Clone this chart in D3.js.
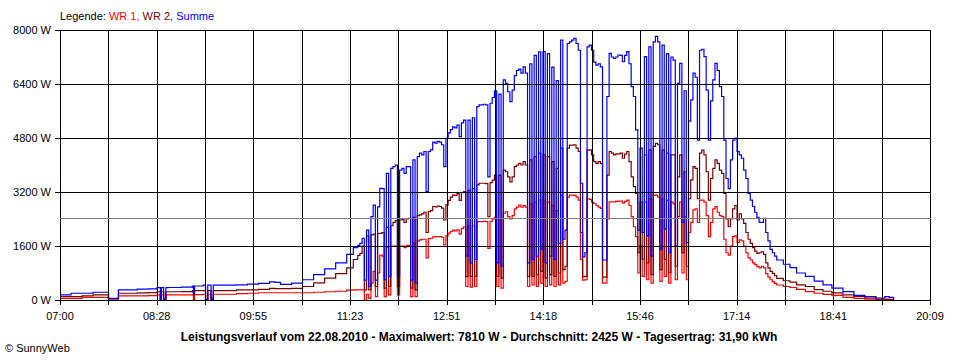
<!DOCTYPE html>
<html><head><meta charset="utf-8">
<script src="https://cdn.jsdelivr.net/npm/d3@7"></script>
<style>
html,body{margin:0;padding:0;background:#fff;}
svg{display:block;font-family:"Liberation Sans",Arial,sans-serif;}
</style></head><body>
<svg id="chart" width="960" height="360"></svg>
<script>
// ---- data ----
const times = [
"07:00","07:05","07:10","07:20","07:30","07:40","07:44","07:48","07:53","08:00",
"08:10","08:20","08:28","08:31","08:32","08:34","08:36","08:38","08:50","09:00",
"09:01","09:02","09:10","09:12","09:14","09:17","09:19","09:30","09:40","09:50",
"10:00","10:10","10:15","10:20","10:30","10:40","10:50","11:00","11:10","11:20",
"11:26",
"11:30","11:32","11:34","11:36","11:38","11:40","11:42","11:44","11:46","11:48",
"11:50","11:52","11:54","11:56","11:58","12:00","12:02","12:04","12:06","12:08",
"12:10","12:12","12:14","12:16","12:18","12:20","12:22","12:24","12:26","12:28",
"12:30","12:32","12:34","12:36","12:38","12:40","12:42","12:44","12:46","12:48",
"12:50","12:52","12:54","12:56","12:58","13:00","13:02","13:04","13:06","13:08",
"13:10","13:12","13:14","13:16","13:18","13:20","13:22","13:24","13:26","13:28",
"13:30","13:32","13:34","13:36","13:38","13:40","13:42","13:44","13:46","13:48",
"13:50","13:52","13:54","13:56","13:58","14:00","14:02","14:04","14:06","14:08",
"14:10","14:12","14:14","14:16","14:18","14:20","14:22","14:24","14:26","14:28",
"14:30","14:32","14:34","14:36","14:38","14:40","14:42","14:44","14:46","14:48",
"14:50","14:52","14:54","14:56","14:58","15:00","15:02","15:04","15:06","15:08",
"15:10","15:12","15:14","15:16","15:18","15:20","15:22","15:24","15:26","15:28",
"15:30","15:32","15:34","15:36","15:38","15:40","15:42","15:44","15:46","15:48",
"15:50","15:52","15:54","15:56","15:58","16:00","16:02","16:04","16:06","16:08",
"16:10","16:12","16:14","16:16","16:18","16:20","16:22","16:24","16:26","16:28",
"16:30","16:32","16:34","16:36","16:38","16:40","16:42","16:44","16:46","16:48",
"16:50","16:52","16:54","16:56","16:58","17:00","17:02","17:04","17:06","17:08",
"17:10","17:12","17:14","17:16","17:18","17:20","17:22","17:24","17:26","17:28",
"17:30","17:32","17:34","17:36","17:38","17:40","17:42","17:44","17:46","17:48",
"17:50","17:56","18:02","18:08","18:16","18:24","18:32","18:40","18:50","19:00",
"19:10","19:20","19:24","19:28","19:32","19:36"
];
// Summe (blue)
const summe = [
150,150,200,200,230,230,50,50,300,300,
320,330,365,20,365,20,365,370,380,415,
200,415,440,20,440,20,440,440,450,470,
490,540,520,465,500,600,750,920,1100,1350,
1550,
1620,1680,1830,590,2070,400,2470,2810,590,2760,
3310,3300,600,3750,700,3900,3950,4000,690,3850,
3900,3750,3950,3950,590,4150,500,4250,4350,4300,
4400,3210,4400,4450,4680,4650,4700,4680,4600,3950,
4790,4950,5050,5130,5100,5180,4840,5250,5330,1300,
5330,1100,5400,1200,5730,5780,5780,5800,5780,3650,
5830,6000,6200,1100,6100,1000,6520,6420,6170,5880,
6220,6650,6800,6840,6720,6910,6720,1100,7000,1200,
7250,1300,7350,1500,7360,1100,7300,1300,6900,1200,
6500,1680,7700,1800,2070,7600,7650,7700,7750,7600,
7400,3460,1280,1400,7500,7550,7400,7050,6960,7000,
6910,1185,1185,6030,7310,7200,7160,7200,7260,7250,
7060,7250,7360,7000,6320,6030,5040,2070,4500,2000,
7210,1900,7500,1300,7650,7810,7650,1500,7550,2100,
7300,1400,7200,7110,1600,6420,7010,2300,6200,1700,
5300,5930,6720,6600,4740,7400,7430,7210,6220,4740,
5900,6520,7010,6800,6320,6030,4740,3600,3300,4150,
4740,4800,4400,4300,4200,3850,3600,3160,2960,2770,
2600,2450,2300,2300,2420,2000,1750,1500,1400,1300,
1185,1060,960,800,700,560,450,350,250,140,
100,60,60,100,80,30
];
// WR 2 (dark red)
const wr2 = [
100,100,100,120,150,150,30,30,200,200,
210,220,245,10,245,10,245,245,250,275,
150,275,275,10,280,10,280,280,300,300,
315,345,340,340,345,400,510,650,780,950,
1200,
1320,1380,1600,300,1900,300,1930,1950,400,1970,
1975,2000,350,2150,400,2200,2300,2350,400,2370,
2380,2300,2400,2420,350,2450,300,2500,2520,2550,
2600,2000,2620,2650,2770,2760,2780,2770,2720,2370,
2820,2950,3050,3110,3100,3150,2950,3180,3210,690,
3250,700,3300,700,3410,3460,3460,3460,3450,2470,
3480,3550,3700,700,3700,650,3850,3800,3650,3500,
3650,3950,4000,4050,4000,4100,4000,700,4150,700,
4250,750,4350,850,4300,650,4250,750,4100,700,
3900,800,4500,900,1000,4500,4590,4590,4600,4500,
4400,2000,690,700,4440,4450,4300,4100,4050,4100,
4050,680,680,3700,4400,4350,4300,4330,4330,4350,
4200,4320,4400,4100,3650,3360,3160,1400,2900,1200,
4300,1100,4450,750,4550,4640,4600,900,4450,1200,
4350,800,4300,4300,1000,3650,4300,1400,3800,1000,
3000,3560,3950,3900,3000,4350,4440,4300,3800,2960,
3600,3900,4150,4050,3850,3750,3160,2400,2170,2400,
2700,2800,2370,2550,2400,2270,2000,1800,1680,1550,
1450,1380,1400,1430,1350,1100,950,850,790,720,
640,570,530,450,400,310,260,210,150,100,
60,30,30,30,20,10
];
// WR 1 (red)
const wr1 = [
50,50,50,80,80,80,0,0,120,120,
120,130,150,0,150,0,150,150,150,150,
0,160,170,0,170,0,170,170,190,200,
215,215,215,215,215,215,230,245,260,290,
300,
300,300,300,0,170,50,500,850,100,800,
1330,1300,100,1550,150,1600,1600,1600,150,1600,
1600,1550,1620,1620,100,1690,100,1750,1780,1800,
1800,1250,1820,1830,1870,1875,1880,1875,1860,1630,
1900,1980,2030,2070,2050,2080,1950,2120,2170,400,
2200,380,2200,400,2320,2320,2320,2330,2320,1530,
2330,2400,2450,400,2400,350,2570,2615,2470,2400,
2500,2700,2750,2810,2750,2800,2750,400,2850,450,
2900,400,2960,500,2950,400,2900,450,2800,400,
2650,450,3100,500,550,3050,3110,3110,3100,3050,
2960,1200,590,600,3000,2980,2900,2860,2800,2750,
2715,500,500,2400,2910,2910,2910,2920,2930,2930,
2880,2920,2960,2800,2470,2170,1875,800,1600,700,
2900,600,3000,500,3100,3110,3050,550,3000,700,
2950,500,2900,2850,600,2470,2900,800,2470,600,
2000,2300,2670,2700,2300,2960,2960,2900,2500,1875,
2300,2700,2765,2600,2500,2470,1800,1400,1330,1600,
1875,1900,1700,1780,1750,1600,1400,1250,1185,1100,
1050,990,950,1000,950,780,680,600,540,490,
445,400,370,315,250,200,165,140,80,45,
25,15,10,10,10,0
];
const yTicks = [0, 1600, 3200, 4800, 6400, 8000];
const xTickLabels = ["07:00","08:28","09:55","11:23","12:51","14:18","15:46","17:14","18:41","20:09"];
const xStart = "07:00", xEnd = "20:09";
const durchschnitt = 2425;
const maximalwert = 7810;
const tagesertrag = "31,90";
const datum = "22.08.2010";
const legendItems = [
  {text: "Legende: ", color: "#000000"},
  {text: "WR 1, ", color: "#ff0000"},
  {text: "WR 2, ", color: "#800000"},
  {text: "Summe", color: "#0000ff"}
];
// drawing order: WR 1, WR 2, then Summe on top
const seriesList = [
  {name: "WR 1", values: wr1, color: "#ff0000"},
  {name: "WR 2", values: wr2, color: "#800000"},
  {name: "Summe", values: summe, color: "#0000ff"}
];

// ---- drawing ----
const svg = d3.select("#chart");
const parse = d3.timeParse("%H:%M");
const t0 = parse(xStart), t1 = parse(xEnd);
const x = d3.scaleTime().domain([t0, t1]).range([60, 930]);
const y = d3.scaleLinear().domain([0, 8000]).range([300, 30]);
const px = v => Math.round(v) + 0.5;

// legend
const lg = svg.append("text").attr("x", 60).attr("y", 20).attr("font-size", 11);
legendItems.forEach(d => lg.append("tspan").attr("fill", d.color).text(d.text));

// series
const parsedTimes = times.map(parse);
const line = d3.line().x(d => x(d.t)).y(d => y(d.v)).curve(d3.curveStepAfter);
seriesList.forEach(s => {
  const pts = parsedTimes.map((t, i) => ({t, v: s.values[i]}));
  svg.append("path").datum(pts).attr("d", line)
    .attr("fill", "none").attr("stroke", s.color).attr("stroke-width", 1.2);
});

// x ticks/grid: 18 equal intervals over the domain
const nInt = 18;
const xTickDates = d3.range(nInt + 1).map(i => new Date(+t0 + i * (t1 - t0) / nInt));
const grid = svg.append("g").attr("shape-rendering", "crispEdges");
xTickDates.forEach((d, i) => {
  grid.append("line").attr("x1", px(x(d))).attr("x2", px(x(d)))
    .attr("y1", y(8000)).attr("y2", y(0) + 5).attr("stroke", "#000");
  if (i % 2 === 0) {
    svg.append("text").attr("x", x(d)).attr("y", 320).attr("text-anchor", "middle")
      .attr("font-size", 11).attr("fill", "#000").text(xTickLabels[i / 2]);
  }
});
// y grid + labels
yTicks.forEach(v => {
  grid.append("line").attr("x1", 55).attr("x2", 931)
    .attr("y1", px(y(v))).attr("y2", px(y(v))).attr("stroke", "#000");
  svg.append("text").attr("x", 51).attr("y", y(v)).attr("dy", "0.36em")
    .attr("text-anchor", "end").attr("font-size", 11).attr("fill", "#000").text(v + " W");
});
// mean line
grid.append("line").attr("x1", 60).attr("x2", 931)
  .attr("y1", px(y(durchschnitt))).attr("y2", px(y(durchschnitt))).attr("stroke", "#808080");

// title
svg.append("text").attr("x", 479).attr("y", 341).attr("text-anchor", "middle")
  .attr("font-size", 12).attr("font-weight", "bold").attr("fill", "#000")
  .text(`Leistungsverlauf vom ${datum} - Maximalwert: ${maximalwert} W - Durchschnitt: ${durchschnitt} W - Tagesertrag: ${tagesertrag} kWh`);
// footer
svg.append("text").attr("x", 5).attr("y", 352).attr("font-size", 11).attr("fill", "#000")
  .text("© SunnyWeb");
</script>
</body></html>
